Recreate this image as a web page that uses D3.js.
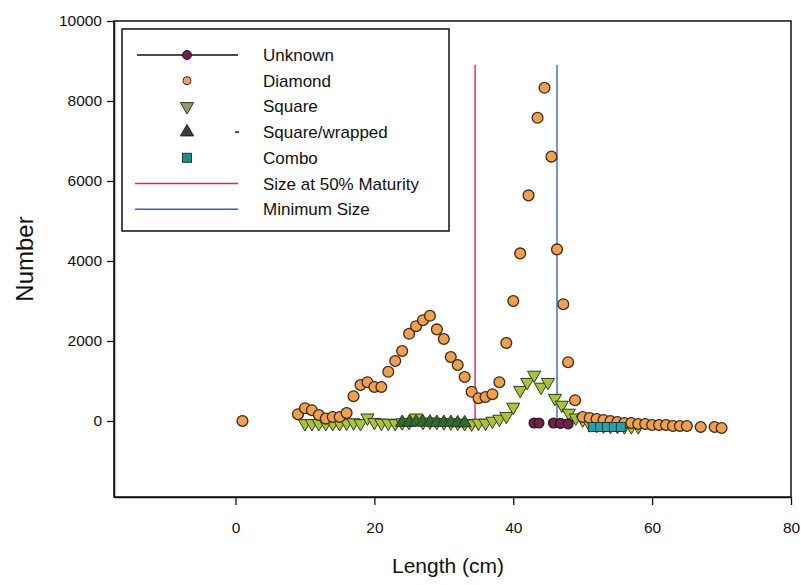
<!DOCTYPE html>
<html>
<head>
<meta charset="utf-8">
<script src="https://cdn.jsdelivr.net/npm/d3@7"></script>
<style>
  body { margin: 0; background: #fff; }
  svg text { font-family: "Liberation Sans", Arial, sans-serif; fill: #111; }
</style>
</head>
<body>
<div id="chart"></div>
<script>
// values
const diamondLen = [1, 9, 10, 11, 12, 13, 14, 15, 16, 17, 18, 19, 20, 21, 22, 23, 24, 25, 26, 27, 28, 29, 30,
  31, 32, 33, 34, 35, 36, 37, 38, 39, 40, 41, 42.2, 43.5, 44.5, 45.5, 46.3, 47.2, 47.9, 48.9,
  50, 51, 52, 53, 54, 55, 56, 57, 58, 59, 60, 61, 62, 63, 64, 65, 67, 69, 70];
const diamondNum = [0, 170, 320, 270, 150, 60, 100, 100, 200, 620, 900, 970, 850, 850, 1230, 1500, 1750, 2180, 2370,
  2520, 2630, 2290, 2050, 1600, 1400, 1100, 730, 570, 600, 670, 970, 1950, 3000, 4190, 5640, 7580, 8330, 6610, 4290,
  2920, 1470, 520,
  100, 75, 50, 25, 0, -25, -50, -50, -75, -75, -100, -100, -100, -125, -125, -125, -150, -150, -175];

const squareLen = [10, 11, 12, 13, 14, 15, 16, 17, 18, 19, 20, 21, 22, 23, 24, 25, 26, 27, 28, 29, 30, 31, 32, 33,
  34, 35, 36, 37, 38, 39, 40, 41, 42, 43, 44, 45, 46, 47, 48, 49, 50, 51, 52, 53, 54, 55, 56, 57, 58];
const squareNum = [-60, -60, -60, -60, -60, -60, -50, -40, -60, 80, -30, -50, -50, -60, -40, -30, 80, -30, -20, -30,
  -40, -40, -50, -60, -70, -50, -50, 0, 50, 120, 350, 770, 970, 1150, 850, 970, 570, 400, 200, 80, 30,
  -90, -110, -120, -130, -130, -140, -140, -140];

const wrappedLen = [24, 25, 26, 27, 28, 29, 30, 31, 32, 33];
const wrappedNum = [-40, -40, -30, -30, -30, -40, -40, -40, -50, -50];

const unknownLen = [43, 43.7, 45.8, 46.8, 47.9];
const unknownNum = [-50, -50, -50, -60, -70];

const comboLen = [51.5, 52.5, 53.5, 54.5, 55.5];
const comboNum = [-150, -150, -150, -150, -150];

const maturitySize = 34.5;
const minimumSize = 46.3;
const refLineRange = [-150, 8900];

const xTicks = [0, 20, 40, 60, 80];
const yTicks = [0, 2000, 4000, 6000, 8000, 10000];

const W = 801, H = 585;
const plotL = 114, plotR = 791, plotT = 21, plotB = 497;

const svg = d3.select("#chart").append("svg")
  .attr("width", W).attr("height", H);

const x = d3.scaleLinear().domain([-17.5, 80]).range([plotL, plotR]);
const y = d3.scaleLinear().domain([-1900, 10000]).range([plotB, plotT]);

// frame
svg.append("rect")
  .attr("x", plotL).attr("y", plotT)
  .attr("width", plotR - plotL).attr("height", plotB - plotT)
  .attr("fill", "none").attr("stroke", "#111").attr("stroke-width", 1.5);

const yAxis = svg.append("g")
  .attr("transform", "translate(" + plotL + ",0)")
  .call(d3.axisLeft(y).tickValues(yTicks).tickFormat(d3.format("d"))
    .tickSize(7).tickPadding(5).tickSizeOuter(0));
yAxis.selectAll("text").style("font-size", "15.5px");

const xAxis = svg.append("g")
  .attr("transform", "translate(0," + plotB + ")")
  .call(d3.axisBottom(x).tickValues(xTicks).tickSize(8).tickPadding(17).tickSizeOuter(0));
xAxis.selectAll("text").style("font-size", "15.5px");
svg.selectAll(".domain").attr("stroke", "#111").attr("stroke-width", 1.5);
svg.selectAll(".tick line").attr("stroke", "#111").attr("stroke-width", 1.3);

svg.append("text")
  .attr("x", 448).attr("y", 573)
  .attr("text-anchor", "middle")
  .style("font-size", "21px")
  .text("Length (cm)");

svg.append("text")
  .attr("transform", "translate(33,259) rotate(-90)")
  .attr("text-anchor", "middle")
  .style("font-size", "24px")
  .text("Number");

// reference lines
const refs = [[maturitySize, "#e8204e"], [minimumSize, "#3f5fd0"]];
svg.selectAll(".ref").data(refs).enter().append("line")
  .attr("x1", d => x(d[0])).attr("x2", d => x(d[0]))
  .attr("y1", y(refLineRange[0])).attr("y2", y(refLineRange[1]))
  .attr("stroke", d => d[1]).attr("stroke-width", 1.4);

const zip = (a, b) => a.map((v, i) => [v, b[i]]);
const outline = "#3b2a1a";

const triDown = d3.symbol().type(d3.symbolTriangle).size(75);

function drawTriangles(data, fill, flip) {
  svg.append("g").selectAll("path").data(data).enter().append("path")
    .attr("d", triDown)
    .attr("transform", d => "translate(" + x(d[0]) + "," + y(d[1]) + ")" + (flip ? " rotate(180)" : ""))
    .attr("fill", fill).attr("stroke", "#2e3a1a").attr("stroke-width", 1);
}

drawTriangles(zip(squareLen, squareNum), "#a9c43c", true);
drawTriangles(zip(wrappedLen, wrappedNum), "#2f6a34", false);

svg.append("g").selectAll("circle").data(zip(diamondLen, diamondNum)).enter().append("circle")
  .attr("cx", d => x(d[0])).attr("cy", d => y(d[1])).attr("r", 5.4)
  .attr("fill", "#eea04e").attr("stroke", outline).attr("stroke-width", 1.3);

svg.append("g").selectAll("rect").data(zip(comboLen, comboNum)).enter().append("rect")
  .attr("x", d => x(d[0]) - 4.5).attr("y", d => y(d[1]) - 4.5)
  .attr("width", 9).attr("height", 9)
  .attr("fill", "#2a9fa8").attr("stroke", "#1b3a3a").attr("stroke-width", 1);

svg.append("g").selectAll("circle").data(zip(unknownLen, unknownNum)).enter().append("circle")
  .attr("cx", d => x(d[0])).attr("cy", d => y(d[1])).attr("r", 5)
  .attr("fill", "#6a2448").attr("stroke", "#2a1020").attr("stroke-width", 1.2);

// legend
const lg = svg.append("g");
lg.append("rect")
  .attr("x", 122).attr("y", 29).attr("width", 327).attr("height", 202)
  .attr("fill", "#fff").attr("stroke", "#111").attr("stroke-width", 1.5);

const legendNames = ["Unknown", "Diamond", "Square", "Square/wrapped", "Combo", "Size at 50% Maturity", "Minimum Size"];
const rowY = i => 55 + i * 25.7;
const mx = 187;

lg.selectAll("text").data(legendNames).enter().append("text")
  .attr("x", 263).attr("y", (d, i) => rowY(i) + 6)
  .style("font-size", "17px")
  .text(d => d);

lg.append("line").attr("x1", 137).attr("x2", 238).attr("y1", rowY(0)).attr("y2", rowY(0))
  .attr("stroke", "#111").attr("stroke-width", 1.3);
lg.append("circle").attr("cx", mx).attr("cy", rowY(0)).attr("r", 4.5)
  .attr("fill", "#6a2448").attr("stroke", "#2a1020");
lg.append("circle").attr("cx", mx).attr("cy", rowY(1)).attr("r", 4)
  .attr("fill", "#eea07a").attr("stroke", outline);
lg.append("path").attr("d", triDown).attr("transform", "translate(" + mx + "," + rowY(2) + ") rotate(180)")
  .attr("fill", "#8e9c70").attr("stroke", "#2e3a1a");
lg.append("path").attr("d", triDown).attr("transform", "translate(" + mx + "," + rowY(3) + ")")
  .attr("fill", "#3c3c3c").attr("stroke", "#222");
lg.append("line").attr("x1", 235).attr("x2", 239).attr("y1", rowY(3)).attr("y2", rowY(3))
  .attr("stroke", "#111").attr("stroke-width", 1.5);
lg.append("rect").attr("x", mx - 4.5).attr("y", rowY(4) - 4.5).attr("width", 9).attr("height", 9)
  .attr("fill", "#1f8f86").attr("stroke", "#1b3a3a");
lg.append("line").attr("x1", 135).attr("x2", 238).attr("y1", rowY(5)).attr("y2", rowY(5))
  .attr("stroke", "#e8204e").attr("stroke-width", 1.4);
lg.append("line").attr("x1", 135).attr("x2", 238).attr("y1", rowY(6)).attr("y2", rowY(6))
  .attr("stroke", "#3f5fd0").attr("stroke-width", 1.4);
</script>
</body>
</html>
